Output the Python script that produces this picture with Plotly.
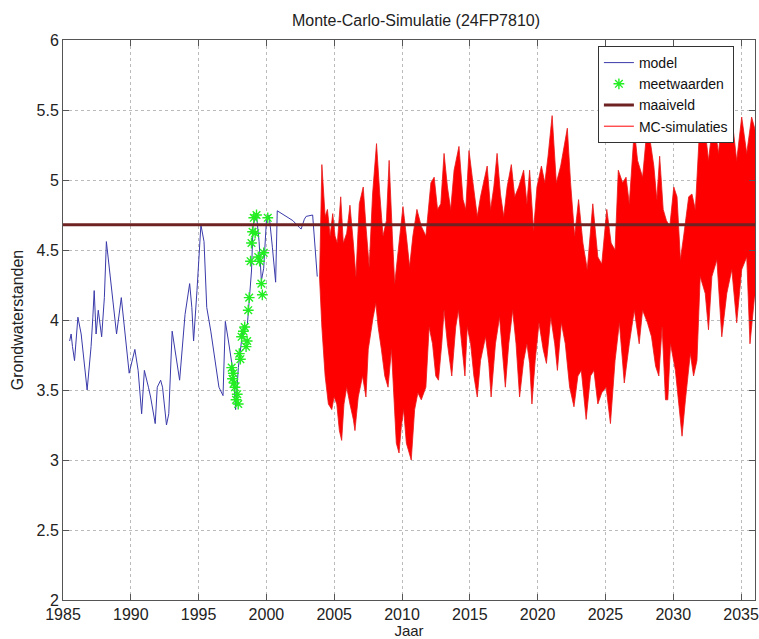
import plotly.graph_objects as go

# ---- data ----
model_years = [1985.49, 1985.6, 1985.7, 1985.85, 1986.1, 1986.34, 1986.78, 1987.07, 1987.2, 1987.3,
               1987.44, 1987.6, 1987.85, 1988.05, 1988.2, 1988.54, 1988.95, 1989.3, 1989.46, 1989.88,
               1990.3, 1990.54, 1990.8, 1991.0, 1991.3, 1991.46, 1991.8, 1991.95, 1992.2, 1992.34,
               1992.63, 1992.8, 1993.05, 1993.3, 1993.6, 1994.0, 1994.34, 1994.5, 1994.63, 1994.88,
               1995.17, 1995.4, 1995.6, 1995.9, 1996.2, 1996.5, 1996.8, 1996.97, 1997.2, 1997.56,
               1997.73, 1997.93, 1998.25, 1998.6, 1998.9, 1999.02, 1999.27, 1999.46, 1999.63, 1999.8,
               2000.0, 2000.2, 2000.44, 2000.68, 2000.8, 2001.95, 2002.44, 2002.56, 2002.8, 2002.93,
               2003.41, 2003.6, 2003.75]
model_level = [3.85, 3.90, 3.81, 3.71, 4.02, 3.90, 3.50, 3.81, 4.02, 4.21,
               3.90, 4.07, 3.88, 4.16, 4.56, 4.28, 3.90, 4.16, 4.02, 3.62,
               3.79, 3.64, 3.33, 3.64, 3.52, 3.45, 3.26, 3.52, 3.57, 3.52,
               3.25, 3.33, 3.92, 3.76, 3.57, 4.04, 4.26, 4.09, 3.85, 4.21,
               4.68, 4.56, 4.09, 3.92, 3.71, 3.52, 3.46, 3.99, 3.85, 3.62,
               3.36, 3.66, 3.92, 3.97, 4.35, 4.68, 4.75, 4.56, 4.28, 4.37,
               4.71, 4.75, 4.52, 4.27, 4.78, 4.71, 4.66, 4.65, 4.72, 4.74,
               4.75, 4.52, 4.31]

meet_years = [1997.44, 1997.5, 1997.56, 1997.62, 1997.68, 1997.76, 1997.85, 1997.92, 1998.0, 1998.08,
              1998.17, 1998.3, 1998.4, 1998.5, 1998.58, 1998.66, 1998.73, 1998.83, 1998.9, 1998.98,
              1999.07, 1999.17, 1999.27, 1999.4, 1999.5, 1999.63, 1999.7, 1999.8, 2000.1]
meet_level = [3.66, 3.58, 3.62, 3.55, 3.52, 3.43, 3.47, 3.40, 3.76, 3.72,
               3.88, 3.92, 3.95, 3.81, 3.85, 4.07, 4.16, 4.42, 4.55, 4.63,
               4.73, 4.62, 4.75, 4.45, 4.42, 4.26, 4.18, 4.48, 4.73]

maaiveld_years = [1985.0, 2040.0]
maaiveld_level = 4.68

# upper envelope of the Monte-Carlo runs
mc_up_years = [2003.92, 2004.09, 2004.33, 2004.50, 2004.70, 2004.89, 2005.06, 2005.23, 2005.48, 2005.67,
               2005.92, 2006.16, 2006.41, 2006.60, 2006.85, 2007.14, 2007.34, 2007.58, 2007.83, 2008.12,
               2008.36, 2008.60, 2008.85, 2009.05, 2009.29, 2009.46, 2009.78, 2010.07, 2010.32, 2010.56,
               2010.80, 2011.10, 2011.42, 2011.76, 2012.13, 2012.37, 2012.62, 2012.86, 2013.10, 2013.35,
               2013.59, 2013.84, 2014.20, 2014.50, 2014.70, 2014.94, 2015.18, 2015.55, 2015.79, 2016.28,
               2016.53, 2016.77, 2017.01, 2017.26, 2017.50, 2017.75, 2018.06, 2018.31, 2018.60, 2018.97,
               2019.21, 2019.41, 2019.70, 2019.95, 2020.28, 2020.53, 2020.77, 2021.07, 2021.38, 2021.70,
               2022.19, 2022.43, 2022.73, 2023.02, 2023.34, 2023.66, 2024.07, 2024.44, 2024.73, 2025.10,
               2025.42, 2025.71, 2025.95, 2026.27, 2026.52, 2026.76, 2027.13, 2027.37, 2027.74, 2028.06,
               2028.33, 2028.57, 2028.79, 2029.00, 2029.26, 2029.50, 2029.75, 2030.04, 2030.28, 2030.53,
               2030.77, 2031.14, 2031.38, 2031.63, 2031.99, 2032.25, 2032.60, 2032.97, 2033.34, 2033.58,
               2033.95, 2034.32, 2034.68, 2035.05, 2035.42, 2035.78, 2036.20]
mc_up = [4.30, 5.11, 4.74, 4.79, 4.60, 4.76, 4.60, 4.55, 4.88, 4.55,
         4.62, 4.82, 4.55, 4.31, 4.83, 4.95, 4.67, 4.38, 4.90, 5.26,
         4.90, 4.60, 4.71, 5.14, 4.60, 4.26, 4.55, 4.81, 4.60, 4.38,
         4.60, 4.79, 4.67, 4.60, 4.98, 5.02, 4.79, 4.83, 5.19, 4.95,
         4.79, 5.07, 5.24, 4.86, 4.79, 5.21, 5.02, 4.74, 4.88, 5.10,
         4.79, 4.95, 5.19, 4.90, 4.74, 4.95, 5.11, 4.88, 4.95, 5.07,
         4.83, 5.07, 4.64, 4.95, 5.10, 4.98, 5.17, 5.46, 4.98, 5.10,
         5.37, 4.98, 4.60, 4.86, 4.55, 4.36, 4.83, 4.45, 4.40, 4.79,
         4.55, 4.50, 5.07, 4.98, 5.02, 4.83, 5.36, 5.14, 5.02, 5.36,
         5.26, 5.10, 4.86, 5.17, 4.79, 4.71, 4.67, 4.95, 4.88, 4.43,
         4.60, 4.88, 4.90, 4.79, 5.45, 5.45, 5.14, 5.45, 5.19, 5.45,
         5.31, 5.45, 5.14, 5.45, 5.19, 5.45, 5.30]

# lower envelope of the Monte-Carlo runs
mc_lo_years = [2003.92, 2004.09, 2004.33, 2004.57, 2004.82, 2004.99, 2005.19, 2005.38, 2005.55, 2005.72,
               2005.92, 2006.16, 2006.41, 2006.53, 2006.77, 2007.09, 2007.34, 2007.51, 2007.87, 2008.07,
               2008.24, 2008.48, 2008.73, 2008.97, 2009.22, 2009.34, 2009.58, 2009.78, 2009.95, 2010.12,
               2010.32, 2010.68, 2010.93, 2011.17, 2011.42, 2011.76, 2012.00, 2012.25, 2012.49, 2012.69,
               2012.93, 2013.10, 2013.35, 2013.67, 2013.96, 2014.16, 2014.40, 2014.64, 2014.81, 2015.06,
               2015.30, 2015.55, 2015.79, 2016.16, 2016.40, 2016.57, 2016.89, 2017.19, 2017.38, 2017.62,
               2017.87, 2018.16, 2018.41, 2018.67, 2018.97, 2019.21, 2019.41, 2019.58, 2019.82, 2020.10,
               2020.41, 2020.65, 2020.97, 2021.26, 2021.46, 2021.75, 2022.04, 2022.36, 2022.68, 2022.97,
               2023.22, 2023.58, 2023.90, 2024.15, 2024.44, 2024.73, 2025.05, 2025.37, 2025.71, 2026.03,
               2026.39, 2026.76, 2027.13, 2027.49, 2027.74, 2028.10, 2028.40, 2028.70, 2028.94, 2029.18,
               2029.43, 2029.60, 2029.80, 2030.16, 2030.65, 2030.90, 2031.26, 2031.50, 2031.75, 2031.99,
               2032.36, 2032.60, 2032.85, 2033.22, 2033.58, 2033.95, 2034.32, 2034.68, 2035.05, 2035.42,
               2035.66, 2036.00, 2036.30]
mc_lo = [4.30, 3.95, 3.60, 3.40, 3.36, 3.45, 3.40, 3.21, 3.14, 3.40,
         3.52, 3.40, 3.29, 3.21, 3.45, 3.60, 3.45, 3.79, 4.02, 4.12,
         3.95, 3.79, 3.60, 3.52, 3.79, 3.55, 3.12, 3.05, 3.24, 3.36,
         3.12, 3.00, 3.36, 3.48, 3.43, 3.52, 3.95, 3.83, 3.60, 3.57,
         3.83, 4.07, 3.83, 3.60, 3.95, 4.07, 3.83, 3.60, 3.95, 3.83,
         3.60, 3.45, 3.71, 3.88, 3.69, 3.45, 3.83, 4.02, 3.83, 3.52,
         3.83, 4.07, 3.83, 3.45, 3.71, 3.83, 3.69, 3.40, 3.71, 3.98,
         3.79, 3.69, 4.02, 3.83, 3.64, 3.98, 3.83, 3.52, 3.38, 3.60,
         3.64, 3.29, 3.60, 3.64, 3.40, 3.48, 3.52, 3.26, 3.71, 3.98,
         3.55, 3.83, 4.07, 3.83, 4.07, 3.98, 3.88, 3.67, 3.60, 3.95,
         3.43, 3.43, 3.83, 3.64, 3.17, 3.43, 3.76, 3.60, 3.71, 4.31,
         4.19, 3.93, 4.31, 4.43, 3.88, 4.19, 4.36, 3.98, 4.36, 4.45,
         3.83, 4.17, 4.10]

x_ticks = [1985, 1990, 1995, 2000, 2005, 2010, 2015, 2020, 2025, 2030, 2035]
y_ticks = [2, 2.5, 3, 3.5, 4, 4.5, 5, 5.5, 6]
y_tick_text = ["2", "2.5", "3", "3.5", "4", "4.5", "5", "5.5", "6"]

FONT = "Liberation Sans, Arial, sans-serif"

fig = go.Figure()

# MC band (polygon from upper and lower envelopes)
fig.add_trace(go.Scatter(
    x=mc_up_years + mc_lo_years[::-1],
    y=mc_up + mc_lo[::-1],
    mode="lines", fill="toself", fillcolor="#ff0000",
    line=dict(color="#e81818", width=0.8),
    showlegend=False, hoverinfo="skip"))

fig.add_trace(go.Scatter(
    x=model_years, y=model_level, mode="lines", name="model",
    line=dict(color="#3a3aaa", width=1)))

fig.add_trace(go.Scatter(
    x=meet_years, y=meet_level, mode="markers", name="meetwaarden",
    marker=dict(symbol="asterisk-open", size=9, color="#22ee22",
                line=dict(color="#22ee22", width=1.4))))

fig.add_trace(go.Scatter(
    x=maaiveld_years, y=[maaiveld_level] * len(maaiveld_years), mode="lines",
    name="maaiveld", line=dict(color="#6e2222", width=3)))

# legend entry for the MC simulations (no visible marks)
fig.add_trace(go.Scatter(
    x=[None], y=[None], mode="lines", name="MC-simulaties",
    line=dict(color="#ff0000", width=1)))

axis_common = dict(
    showline=True, linecolor="#555555", linewidth=1, mirror="ticks",
    ticks="inside", ticklen=6, tickcolor="#555555",
    showgrid=True, gridcolor="#bbbbbb", griddash="dot", gridwidth=1,
    zeroline=False, tickfont=dict(family=FONT, size=16, color="#222222"),
    ticklabeloverflow="allow",
)

fig.update_layout(
    width=759, height=639,
    margin=dict(l=63, r=0, t=40, b=39),
    paper_bgcolor="white", plot_bgcolor="white",
    title=dict(text="Monte-Carlo-Simulatie (24FP7810)", x=416 / 759, xanchor="center",
               y=1 - 20 / 639, yanchor="middle",
               font=dict(family=FONT, size=16, color="#222222")),
    xaxis=dict(range=[1985, 2036.03], tickvals=x_ticks,
               title=dict(text="Jaar", standoff=0, font=dict(family=FONT, size=15, color="#222222")),
               **axis_common),
    yaxis=dict(range=[2, 6], tickvals=y_ticks, ticktext=y_tick_text,
               title=dict(text="Grondwaterstanden", standoff=8, font=dict(family=FONT, size=16, color="#222222")),
               **axis_common),
    legend=dict(x=(601 - 63) / 696, y=(600 - 46) / 560, xanchor="left", yanchor="top",
                bgcolor="white", bordercolor="#333333", borderwidth=1,
                font=dict(family=FONT, size=14, color="#111111"),
                tracegroupgap=0),
    showlegend=True,
)

fig.write_html("out.html")
